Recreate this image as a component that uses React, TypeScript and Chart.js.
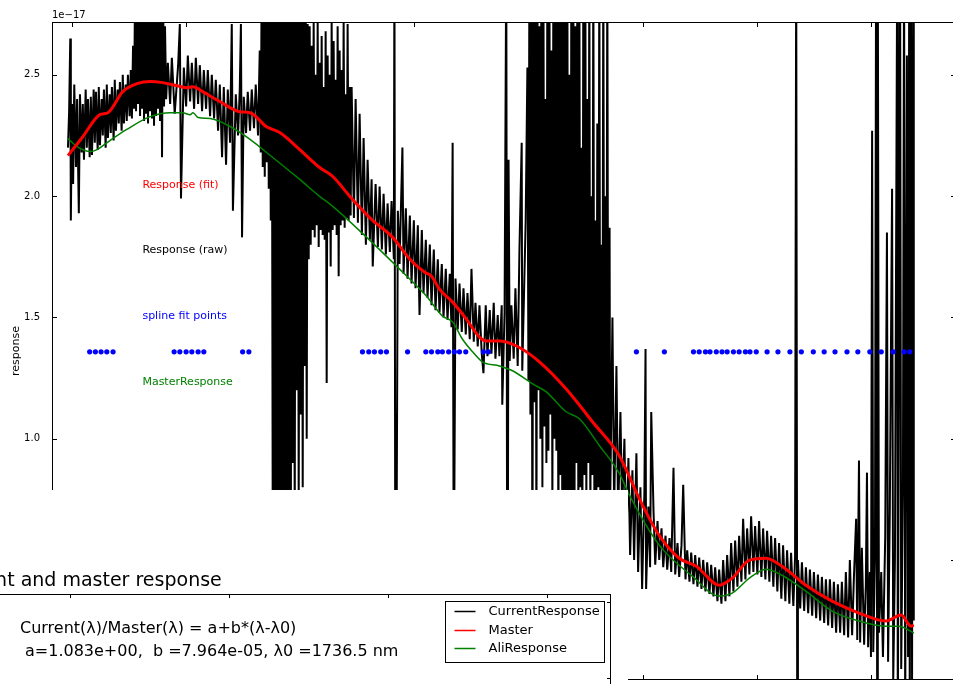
import React, { useEffect, useRef } from 'react';
import { Chart, registerables } from 'chart.js';

Chart.register(...registerables);

const FONT = "'DejaVu Sans', 'Bitstream Vera Sans', sans-serif";

// ---------------- data: wavelength (nm), response (units of 1e-17) ----------------
const rawSpectrum: [number, number][] = [
  [993, 2.2], [995, 2.35], [997, 2.65], [998, 1.9], [1000, 2.38], [1002, 2.05], [1004, 2.46], [1007, 2.12], [1009, 2.4], [1012, 1.93],
  [1014, 2.42], [1017, 2.18], [1019, 2.38], [1021, 2.15], [1024, 2.44], [1026, 2.2], [1028, 2.4], [1031, 2.16], [1033, 2.41], [1035, 2.17],
  [1038, 2.44], [1040, 2.22], [1042, 2.43], [1045, 2.19], [1047, 2.45], [1049, 2.21], [1052, 2.4], [1054, 2.25], [1056, 2.44], [1059, 2.2],
  [1061, 2.46], [1063, 2.24], [1066, 2.42], [1068, 2.26], [1070, 2.45], [1073, 2.23], [1075, 2.48], [1077, 2.27], [1080, 2.44], [1082, 2.3],
  [1084, 2.47], [1087, 2.27], [1089, 2.5], [1091, 2.3], [1094, 2.46], [1096, 2.31], [1098, 2.5], [1101, 2.33], [1103, 2.52], [1105, 2.32],
  [1107, 2.62], [1108.8, 2.36], [1110.5, 2.85], [1112.3, 2.35], [1114, 3.0], [1115.8, 2.38], [1117.5, 3.0], [1119.3, 2.33], [1121, 3.0], [1122.8, 2.36],
  [1124.5, 3.0], [1126.3, 2.31], [1128, 3.0], [1129.8, 2.34], [1131.5, 3.0], [1133.3, 2.3], [1135, 3.0], [1136.8, 2.35], [1138.5, 3.0], [1140.3, 2.32],
  [1142, 3.0], [1143.8, 2.29], [1145.5, 3.0], [1147.3, 2.33], [1149, 3.0], [1150.8, 2.36], [1152.5, 3.0], [1154.3, 2.31], [1156, 3.0], [1157.8, 2.16],
  [1159.5, 2.9], [1161.3, 2.37], [1163, 2.7], [1165, 2.4],
  [1168, 2.55], [1172, 2.38], [1175, 2.57], [1180, 2.34], [1186, 2.54], [1189, 2.71], [1191, 1.99], [1196, 2.53], [1200, 2.37], [1203, 2.58],
  [1207, 2.39], [1210, 2.55], [1214, 2.36], [1217, 2.57], [1221, 2.38], [1224, 2.54], [1228, 2.35], [1231, 2.52], [1235, 2.36], [1238, 2.52],
  [1242, 2.33], [1245, 2.5], [1249, 2.32], [1252, 2.48], [1256, 2.27], [1259, 2.46], [1263, 2.16], [1266, 2.45], [1270, 2.13], [1273, 2.44],
  [1277, 2.22], [1280, 2.71], [1282, 1.94], [1287, 2.42], [1291, 2.25], [1294, 2.44], [1296, 2.71], [1298, 1.83], [1301, 2.41], [1305, 2.26],
  [1308, 2.43], [1312, 2.27], [1315, 2.44], [1319, 2.28], [1322, 2.46], [1326, 2.25],
  [1329, 2.6], [1330.8, 2.18], [1332.5, 2.95], [1334.3, 2.12], [1336, 3.0], [1337.8, 2.08], [1339.5, 3.0], [1341.3, 2.14], [1343, 3.0], [1344.8, 2.03],
  [1346.5, 3.0], [1348.3, 1.9], [1350, 3.0], [1351.8, 0.6], [1353.5, 3.0], [1355.3, 0.3], [1357, 3.0], [1358.8, 0.5], [1360.5, 3.0], [1362.3, 0.2],
  [1364, 3.0], [1365.8, 0.4], [1367.5, 3.0], [1369.3, 0.3], [1371, 3.0], [1372.8, 0.5], [1374.5, 3.0], [1376.3, 0.2], [1378, 3.0], [1379.8, 0.4],
  [1381.5, 3.0], [1383.3, 0.3], [1385, 3.0], [1386.8, 0.9], [1388.5, 3.0], [1390.3, 0.6], [1392, 3.0], [1393.8, 1.2], [1395.5, 3.0], [1397.3, 0.7],
  [1399, 3.0], [1400.8, 1.1], [1402.5, 3.0], [1404.3, 0.8], [1406, 3.0], [1407.8, 1.3], [1409.5, 2.9], [1411.3, 1.0], [1413, 2.71],
  [1414.8, 1.74], [1416.5, 2.7], [1418.3, 1.8], [1420, 2.62], [1421.8, 1.86], [1423.5, 2.72], [1425.3, 1.83], [1427, 2.5], [1428.8, 1.88], [1430.5, 2.72],
  [1432.3, 1.79], [1434, 2.55], [1435.8, 1.86], [1437.5, 2.66], [1439.3, 1.84], [1441, 2.45], [1442.8, 1.82], [1444.5, 2.68], [1446.3, 1.23], [1448, 2.58],
  [1449.8, 1.85], [1451.5, 2.5], [1453.3, 1.71], [1455, 2.72], [1456.8, 1.86], [1458.5, 2.64], [1460.3, 1.88], [1462, 2.48], [1463.8, 1.84], [1465.5, 2.7],
  [1467.3, 1.67], [1469, 2.6], [1470.8, 1.88], [1472.5, 2.52], [1474.3, 1.9], [1476, 2.72], [1477.8, 1.87], [1479.5, 2.42], [1481.3, 1.91], [1483, 2.71],
  [1484.8, 1.9], [1486.5, 2.45], [1488.3, 1.92],
  [1490, 2.45], [1494, 1.91], [1497, 2.4], [1501, 1.89], [1504, 2.34], [1508, 1.84], [1511, 2.24],
  [1515, 1.8], [1518, 2.15], [1522, 1.82], [1525, 2.07], [1527, 1.71], [1532, 2.05], [1536, 1.79], [1539, 2.04], [1543, 1.78], [1546, 2.01],
  [1550, 1.76], [1553, 1.97], [1557, 1.77], [1560, 1.98], [1564, 1.74], [1565, 3.0], [1567, -0.5], [1571, 1.94], [1574, 1.72],
  [1579, 2.2], [1581, 1.68], [1585, 1.95], [1588, 1.66], [1592, 1.92], [1595, 1.64], [1599, 1.9], [1602, 1.62], [1606, 1.88], [1609, 1.51],
  [1613, 1.86], [1616, 1.6], [1620, 1.82], [1623, 1.58], [1627, 1.8], [1630, 1.55], [1634, 1.78], [1637, 1.53], [1641, 1.74], [1644, 1.52],
  [1648, 1.72], [1651, 1.5], [1655, 1.7], [1658, 1.49], [1662, 1.68], [1665, 1.46], [1667, 2.22], [1669, 0.3], [1672, 1.66], [1676, 1.45],
  [1679, 1.64], [1683, 1.44], [1686, 1.62], [1690, 1.43], [1693, 1.6], [1697, 1.41], [1700, 1.7], [1704, 1.4], [1707, 1.56], [1711, 1.38],
  [1714, 1.55], [1718, 1.35], [1721, 1.27], [1725, 1.55], [1728, 1.34], [1732, 1.53], [1735, 1.35], [1739, 1.56], [1742, 1.33], [1746, 1.51],
  [1749, 1.34], [1753, 1.55], [1754, 1.14], [1758, 1.52], [1761, 3.0], [1763, -0.5], [1765, 2.15], [1767, 1.32], [1770, 1.55], [1774, 1.33],
  [1777, 1.62], [1781, 1.3], [1784, 1.77], [1788, 2.22], [1789, 1.28], [1795, 1.9],
  [1798, 2.53], [1799.8, 1.24], [1801.5, 2.95], [1803.3, 1.1], [1805, 3.0], [1806.8, 0.3], [1808.5, 2.8], [1810.3, 1.15], [1812, 3.0], [1813.8, 0.5],
  [1815.5, 3.0], [1817.3, 1.2], [1819, 2.7], [1820.8, 1.0], [1822.5, 3.0], [1824.3, 0.8], [1826, 3.0], [1827.8, 1.05], [1829.5, 2.4], [1831.3, 0.9],
  [1833, 3.0], [1834.8, 0.95], [1836.5, 3.0], [1838.3, 1.1], [1840, 2.6], [1841.8, 0.7], [1843.5, 3.0], [1845.3, 1.0], [1847, 3.0], [1848.8, 0.95],
  [1850.5, 2.9], [1852.3, 0.4], [1854, 3.0], [1855.8, 0.85], [1857.5, 3.0], [1859.3, 0.3], [1861, 2.8], [1862.8, 0.6], [1864.5, 3.0], [1866.3, 0.2],
  [1868, 3.0], [1869.8, 0.5], [1871.5, 2.5], [1873.3, 0.4], [1875, 3.0], [1876.8, 0.7], [1878.5, 3.0], [1880.3, 0.3], [1882, 2.7], [1883.8, 0.9],
  [1885.5, 3.0], [1887.3, 0.6], [1889, 3.0], [1890.8, 0.8], [1892.5, 2.2], [1894.3, 0.5], [1896, 3.0], [1897.8, 0.85], [1899.5, 3.0], [1901.3, 0.7],
  [1903, 2.4], [1904.8, 0.9], [1906.5, 3.0], [1908.3, 0.6], [1910, 2.0], [1911.8, 0.85], [1913.5, 3.0], [1915.3, 0.75], [1917, 1.9], [1918.8, 0.7],
  [1920.5, 2.3], [1922.3, 0.8], [1924, 3.0], [1925.8, 0.7], [1927.5, 1.8], [1929.3, 0.75], [1931, 3.0], [1932.8, 0.72], [1934.5, 2.0], [1936.3, 0.7],
  [1938, 3.0], [1939.8, 0.74],
  [1942, 1.87], [1943, 0.72], [1947, 1.5], [1950, 0.7], [1954, 1.3], [1957, 0.68], [1961, 1.11], [1964, 0.7], [1968, 1.0], [1971, 0.55],
  [1975, 0.92], [1978, 0.52], [1982, 0.87], [1985, 0.5], [1989, 0.94], [1992, 0.45], [1996, 0.8], [1999, 0.38], [2003, 0.78], [2005, 1.37],
  [2006, 0.38], [2010, 0.72], [2013, 0.47], [2015, 1.11], [2019, 0.7], [2022, 0.48], [2026, 0.66], [2029, 0.5], [2033, 0.63], [2036, 0.47],
  [2040, 0.6], [2043, 0.46], [2047, 0.59], [2050, 0.45], [2054, 0.88], [2057, 0.44], [2061, 0.57], [2064, 0.43], [2068, 0.56], [2071, 0.81],
  [2075, 0.42], [2078, 0.54], [2082, 0.41], [2085, 0.53], [2089, 0.4], [2092, 0.52], [2096, 0.39], [2099, 0.51], [2103, 0.38], [2106, 0.5],
  [2110, 0.37], [2113, 0.49], [2117, 0.36], [2120, 0.48], [2124, 0.35], [2127, 0.47], [2131, 0.33], [2134, 0.46], [2138, 0.32], [2141, 0.5],
  [2145, 0.33], [2148, 0.52], [2152, 0.35], [2155, 0.57], [2159, 0.37], [2162, 0.58], [2166, 0.39], [2169, 0.6], [2173, 0.41], [2176, 0.67],
  [2180, 0.42], [2183, 0.63], [2187, 0.44], [2190, 0.68], [2194, 0.45], [2197, 0.64], [2201, 0.44], [2204, 0.66], [2208, 0.43], [2211, 0.63],
  [2215, 0.42], [2218, 0.62], [2222, 0.41], [2225, 0.6], [2229, 0.39], [2232, 0.59], [2236, 0.37], [2239, 0.57], [2243, 0.34], [2246, 0.56],
  [2250, 0.33], [2253, 0.54], [2257, 0.32], [2260, 0.53], [2264, 0.31], [2267, 0.51], [2269, 3.0], [2271, -0.5], [2272, 0.5], [2276, 0.3],
  [2279, 0.49], [2283, 0.29], [2286, 0.47], [2290, 0.28], [2293, 0.46], [2297, 0.27], [2300, 0.45], [2304, 0.26], [2307, 0.44], [2311, 0.25],
  [2314, 0.43], [2318, 0.24], [2321, 0.42], [2325, 0.23], [2328, 0.42], [2332, 0.22], [2335, 0.41], [2339, 0.2], [2342, 0.4], [2346, 0.2],
  [2349, 0.41], [2353, 0.19], [2356, 0.45], [2360, 0.18], [2363, 0.5], [2367, 0.19], [2370, 0.42], [2374, 0.67], [2376, 0.17], [2379, 0.91],
  [2381, 0.16], [2384, 0.55], [2388, 0.15], [2391, 0.4], [2393, 0.86], [2395, 0.14], [2398, 0.45], [2400, 0.1], [2402, 2.27], [2404, 0.12],
  [2407, 0.5], [2409, 3.0], [2411, -0.3], [2412, 3.0], [2414, 0.2], [2418, 0.45], [2421, 0.1], [2425, 0.6], [2428, 1.85], [2430, 0.08],
  [2433, 0.7], [2437, 2.03], [2439, 0.0], [2442, 0.5], [2446, 3.0], [2447, -0.3], [2451, 3.0], [2453, 0.05], [2456, 0.8], [2458, 3.0],
  [2460, -0.2], [2463, 2.58], [2465, 0.1], [2467, 3.0], [2468, -0.3], [2470, 3.0], [2472, 0.0], [2474, 3.0], [2475, 0.25],
];

const fitWavelength = [
  993, 1019, 1049, 1063, 1089, 1114, 1137, 1159, 1184, 1201, 1212, 1229, 1259, 1294, 1312, 1341, 1364, 1399, 1434, 1457,
  1487, 1525, 1562, 1592, 1618, 1630, 1644, 1667, 1691, 1714, 1726, 1749, 1779, 1819, 1866, 1912, 1959, 1994, 2029, 2064,
  2094, 2134, 2157, 2187, 2216, 2244, 2286, 2332, 2379, 2426, 2453, 2470, 2475,
];
const fitResponse = [
  2.167, 2.245, 2.336, 2.344, 2.431, 2.464, 2.473, 2.468, 2.455, 2.447, 2.451, 2.431, 2.39, 2.348, 2.344, 2.286, 2.262, 2.192, 2.118, 2.081,
  1.999, 1.904, 1.83, 1.74, 1.686, 1.67, 1.616, 1.563, 1.493, 1.419, 1.403, 1.403, 1.382, 1.317, 1.205, 1.07, 0.93, 0.753, 0.601, 0.507,
  0.474, 0.396, 0.425, 0.499, 0.507, 0.474, 0.396, 0.33, 0.281, 0.248, 0.273, 0.227, 0.231,
];

const aliWavelength = [
  993, 1009, 1032, 1044, 1061, 1096, 1137, 1172, 1194, 1207, 1212, 1221, 1242, 1277, 1312, 1341, 1399, 1434, 1457, 1516,
  1574, 1621, 1649, 1667, 1684, 1702, 1719, 1749, 1772, 1807, 1831, 1866, 1889, 1924, 1959, 1977, 2029, 2087, 2134, 2157,
  2187, 2216, 2244, 2286, 2332, 2379, 2426, 2449, 2475,
];
const aliResponse = [
  2.237, 2.204, 2.184, 2.192, 2.22, 2.275, 2.328, 2.344, 2.344, 2.336, 2.344, 2.324, 2.32, 2.287, 2.234, 2.18, 2.069, 1.999, 1.958, 1.831,
  1.699, 1.588, 1.506, 1.481, 1.411, 1.358, 1.317, 1.3, 1.28, 1.226, 1.193, 1.111, 1.082, 0.972, 0.857, 0.766, 0.561, 0.433, 0.351, 0.363,
  0.425, 0.462, 0.437, 0.371, 0.289, 0.248, 0.227, 0.227, 0.199,
];

const splineWavelength = [
  1031, 1041, 1051, 1061, 1072, 1179, 1189, 1200, 1210, 1221, 1231, 1299, 1310, 1509, 1520, 1530, 1541, 1551, 1588, 1620,
  1630, 1641, 1649, 1660, 1670, 1679, 1690, 1721, 1730, 1989, 2038, 2089, 2099, 2110, 2118, 2129, 2139, 2148, 2159, 2169,
  2180, 2188, 2199, 2218, 2237, 2258, 2278, 2299, 2318, 2337, 2358, 2377, 2398, 2418, 2439, 2458, 2468,
];
const splineLevel = 1.358;

const yTickValues = [0.5, 1.0, 1.5, 2.0, 2.5];
const xTickValues = [1000, 1200, 1400, 1600, 1800, 2000, 2200, 2400];

const annotationTexts = [
  { text: 'Response (fit)', color: '#ff0000' },
  { text: 'Response (raw)', color: '#000000' },
  { text: 'spline fit points', color: '#0000ff' },
  { text: 'MasterResponse', color: '#008000' },
];

// second (overlapping) figure
const fig2Title = 'Current and master response';
const legendSeries = [
  { label: 'CurrentResponse', color: '#000000' },
  { label: 'Master', color: '#ff0000' },
  { label: 'AliResponse', color: '#008000' },
];
const ratioFormula = 'Current(\u03bb)/Master(\u03bb) = a+b*(\u03bb-\u03bb0)';
const ratioParams = 'a=1.083e+00,  b =7.964e-05, \u03bb0 =1736.5 nm';
const fig2XTicks = [1000, 1250, 1500, 1750, 2000, 2250, 2500];
const fig2YTicks = [0.5, 1.0, 1.5, 2.0, 2.5];

// ---------------- helpers ----------------
function drawFrame(ctx: CanvasRenderingContext2D, a: any, xs: any, ys: any, xt: number[], yt: number[], len: number) {
  ctx.save();
  ctx.strokeStyle = '#000';
  ctx.lineWidth = 1;
  ctx.strokeRect(a.left + 0.5, a.top + 0.5, a.right - a.left - 1, a.bottom - a.top - 1);
  ctx.beginPath();
  for (const v of yt) {
    const y = Math.round(ys.getPixelForValue(v)) + 0.5;
    ctx.moveTo(a.left, y); ctx.lineTo(a.left + len, y);
    ctx.moveTo(a.right, y); ctx.lineTo(a.right - len, y);
  }
  for (const v of xt) {
    const x = Math.round(xs.getPixelForValue(v)) + 0.5;
    ctx.moveTo(x, a.top); ctx.lineTo(x, a.top + len);
    ctx.moveTo(x, a.bottom); ctx.lineTo(x, a.bottom - len);
  }
  ctx.stroke();
  ctx.restore();
}

const mainDecor = {
  id: 'mainDecor',
  afterDatasetsDraw(chart: any) {
    const { ctx, chartArea: a, scales } = chart;
    drawFrame(ctx, a, scales.x, scales.y, xTickValues, yTickValues, 5);
    ctx.save();
    ctx.fillStyle = '#000';
    ctx.font = `10px ${FONT}`;
    ctx.textBaseline = 'alphabetic';
    ctx.textAlign = 'left';
    ctx.fillText('1e\u221217', a.left, a.top - 4);
    const fr = [0.75, 0.65, 0.55, 0.45];
    const h = a.bottom - a.top;
    const w = a.right - a.left;
    ctx.font = `11px ${FONT}`;
    annotationTexts.forEach((t, i) => {
      ctx.fillStyle = t.color;
      ctx.fillText(t.text, a.left + 0.1 * w, a.top + (1 - fr[i]) * h + 1);
    });
    ctx.restore();
  },
};

const fig2Decor = {
  id: 'fig2Decor',
  afterDraw(chart: any) {
    const { ctx, chartArea: a, scales } = chart;
    drawFrame(ctx, a, scales.x, scales.y, fig2XTicks, fig2YTicks, 4);
    ctx.save();
    ctx.fillStyle = '#000';
    ctx.textBaseline = 'middle';
    ctx.textAlign = 'left';
    ctx.font = `16px ${FONT}`;
    ctx.fillText(ratioFormula, a.right - 591, a.top + 35);
    ctx.fillText(ratioParams, a.right - 586, a.top + 58);
    // legend
    const bw = 159, bh = 61;
    const bx = Math.round(a.right - 7 - bw) + 0.5;
    const by = Math.round(a.top + 7) + 0.5;
    ctx.fillStyle = '#fff';
    ctx.fillRect(bx, by, bw, bh);
    ctx.strokeStyle = '#000';
    ctx.lineWidth = 1;
    ctx.strokeRect(bx, by, bw, bh);
    const rows = [10, 29, 47];
    ctx.font = `13px ${FONT}`;
    chart.data.datasets.forEach((ds: any, i: number) => {
      const y = by + rows[i];
      ctx.strokeStyle = ds.borderColor;
      ctx.lineWidth = 1.5;
      ctx.beginPath();
      ctx.moveTo(bx + 9, y); ctx.lineTo(bx + 30, y);
      ctx.stroke();
      ctx.fillStyle = '#000';
      ctx.fillText(ds.label, bx + 43, y);
    });
    ctx.restore();
  },
};

function MainChart() {
  const ref = useRef<HTMLCanvasElement>(null);
  useEffect(() => {
    const chart = new Chart(ref.current as HTMLCanvasElement, {
      type: 'line',
      data: {
        datasets: [
          {
            label: 'spline fit points',
            data: splineWavelength.map((w) => ({ x: w, y: splineLevel })),
            showLine: false,
            pointRadius: 2.6,
            pointBorderWidth: 0,
            pointBackgroundColor: '#0000ff',
            borderColor: '#0000ff',
            order: 0,
          },
          {
            label: 'Response (fit)',
            data: fitWavelength.map((w, i) => ({ x: w, y: fitResponse[i] })),
            borderColor: '#ff0000',
            borderWidth: 3,
            pointRadius: 0,
            cubicInterpolationMode: 'monotone',
            order: 1,
          },
          {
            label: 'MasterResponse',
            data: aliWavelength.map((w, i) => ({ x: w, y: aliResponse[i] })),
            borderColor: '#008000',
            borderWidth: 1.5,
            pointRadius: 0,
            cubicInterpolationMode: 'monotone',
            order: 2,
          },
          {
            label: 'Response (raw)',
            data: rawSpectrum.map(([x, y]) => ({ x, y })),
            borderColor: '#000000',
            borderWidth: 2,
            pointRadius: 0,
            tension: 0,
            order: 3,
          },
        ],
      } as any,
      options: {
        responsive: false,
        animation: false,
        devicePixelRatio: 1,
        events: [],
        layout: { padding: { left: 0, top: 22, right: 3, bottom: 2 } },
        plugins: { legend: { display: false }, tooltip: { enabled: false }, title: { display: false } },
        scales: {
          x: { type: 'linear', min: 965, max: 2549, display: false },
          y: {
            type: 'linear',
            min: 0.005,
            max: 2.718,
            afterBuildTicks: (s: any) => { s.ticks = yTickValues.map((v) => ({ value: v })); },
            afterFit: (s: any) => { s.width = 52; s.paddingTop = 0; s.paddingBottom = 0; },
            ticks: {
              callback: (v: any) => Number(v).toFixed(1),
              font: { size: 10, family: FONT },
              color: '#000',
              padding: 12,
              autoSkip: false,
            },
            grid: { display: false, drawTicks: false },
            border: { display: false },
            title: {
              display: true,
              text: 'response',
              font: { size: 11, family: FONT },
              color: '#000',
              padding: { top: 10, bottom: 0 },
            },
          },
        },
      } as any,
      plugins: [mainDecor],
    });
    return () => chart.destroy();
  }, []);
  return (
    <canvas
      ref={ref}
      width={960}
      height={684}
      style={{ position: 'absolute', left: 0, top: 0, width: 960, height: 684 }}
    />
  );
}

function OverlayChart() {
  const ref = useRef<HTMLCanvasElement>(null);
  useEffect(() => {
    const chart = new Chart(ref.current as HTMLCanvasElement, {
      type: 'line',
      data: {
        datasets: legendSeries.map((s) => ({
          label: s.label,
          data: [],
          borderColor: s.color,
          borderWidth: 1.5,
          pointRadius: 0,
        })),
      },
      options: {
        responsive: false,
        animation: false,
        devicePixelRatio: 1,
        events: [],
        layout: { padding: { left: 17, right: 17, top: 80, bottom: 8 } },
        plugins: {
          legend: { display: false },
          tooltip: { enabled: false },
          title: {
            display: true,
            text: fig2Title,
            font: { size: 19, family: FONT, weight: 'normal' },
            color: '#000',
            padding: { top: 0, bottom: 1.2 },
          },
        },
        scales: {
          x: { type: 'linear', min: 938.6, max: 2600.6, display: false },
          y: { type: 'linear', min: 0, max: 2.55, display: false },
        },
      } as any,
      plugins: [fig2Decor],
    });
    return () => chart.destroy();
  }, []);
  return (
    <canvas
      ref={ref}
      width={1091}
      height={500}
      style={{ position: 'absolute', left: -463, top: 490, width: 1091, height: 500, background: '#fff' }}
    />
  );
}

export default function App() {
  return (
    <div
      style={{
        position: 'fixed',
        left: 0,
        top: 0,
        width: 953,
        height: 684,
        overflow: 'hidden',
        background: '#fff',
      }}
    >
      <MainChart />
      <OverlayChart />
    </div>
  );
}
